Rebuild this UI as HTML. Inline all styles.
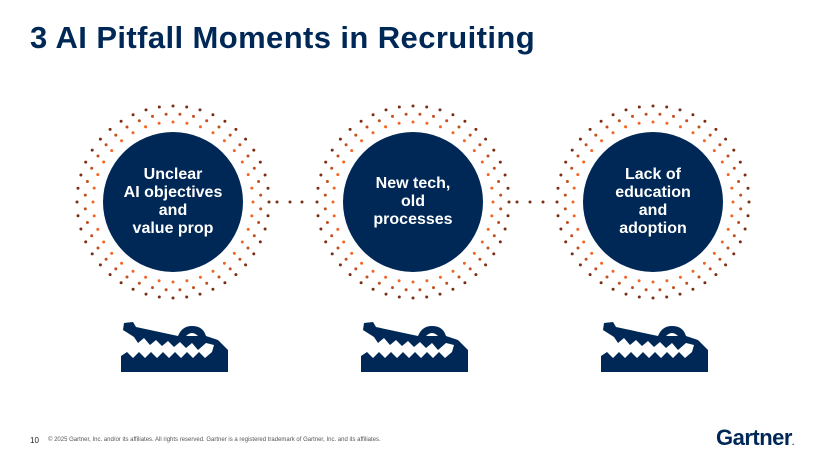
<!DOCTYPE html>
<html><head><meta charset="utf-8"><style>
body{margin:0;width:825px;height:450px;background:#fff;overflow:hidden;font-family:"Liberation Sans",Arial,sans-serif;position:relative}
h1{position:absolute;left:30px;top:20px;margin:0;font-size:31px;font-weight:bold;color:#002856;letter-spacing:0.4px}
.lbl{position:absolute;width:140px;text-align:center;color:#fff;font-weight:bold;font-size:16px;line-height:18px}
.foot{position:absolute;left:48px;top:437px;font-size:6px;color:#555}
.pg{position:absolute;left:30px;top:436px;font-size:8px;color:#222}
.logo{position:absolute;left:716px;top:425px;font-size:22px;font-weight:bold;color:#002856;letter-spacing:-0.5px}
</style></head><body>
<h1>3 AI Pitfall Moments in Recruiting</h1>
<svg id="s" width="825" height="450" style="position:absolute;left:0;top:0"></svg>
<div class="lbl" style="left:103px;top:166px">Unclear<br>AI objectives<br>and<br>value prop</div>
<div class="lbl" style="left:343px;top:175px">New tech,<br>old<br>processes</div>
<div class="lbl" style="left:583px;top:166px">Lack of<br>education<br>and<br>adoption</div>
<div class="pg">10</div>
<div class="foot">© 2025 Gartner, Inc. and/or its affiliates. All rights reserved. Gartner is a registered trademark of Gartner, Inc. and its affiliates.</div>
<div class="logo">Gartner<span style="font-size:8px">.</span></div>
<script>
var s=document.getElementById('s'),h='';
var cx=[173,413,653],cy=202;
[277,290,302,517,530,543].forEach(function(px){h+='<circle cx="'+px+'" cy="'+cy+'" r="1.5" fill="#7a2e14"/>';});
cx.forEach(function(x,i){
 var rings=[[80,36,'#f26522'],[88,40,'#c0501e'],[96,44,'#7a2e14']];
 rings.forEach(function(r,k){for(var j=0;j<r[1];j++){var a=(j+k*0.5)/r[1]*2*Math.PI;
  h+='<circle cx="'+(x+r[0]*Math.cos(a)).toFixed(1)+'" cy="'+(cy+r[0]*Math.sin(a)).toFixed(1)+'" r="1.5" fill="'+r[2]+'"/>';}});
 h+='<circle cx="'+x+'" cy="'+cy+'" r="70" fill="#002856"/>';
 var o=x-173;
 h+='<g transform="translate('+o+',0)" fill="#002856">'+
 '<path d="M123,330 L124,323 L133,322 L136,327 L178,336 Q182,326 192,326 Q203,326 206,336 L218,340 L228,350 L228,372 L121,372 L121,356 L127,352 L133,358 L139,352 L145,358 L151,352 L157,358 L163,352 L169,358 L175,352 L181,358 L187,352 L193,358 L199,352 L205,358 L212,352 L214,345 L206,343 L198,350 L192,343 L186,348 L180,342 L174,347 L168,341 L162,346 L156,340 L150,345 L144,338 L138,343 L134,337 Z"/>'+
 '<path d="M186,336 Q192,330 198,336 Z" fill="#fff"/></g>';
});
s.innerHTML=h;
</script>
</body></html>
